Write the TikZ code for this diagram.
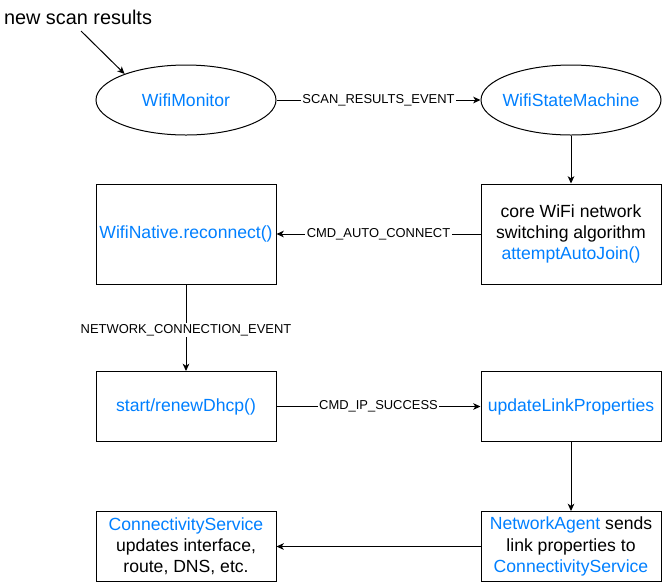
\documentclass[tikz,border=0pt]{standalone}
\usepackage{fontspec}
\setmainfont{Liberation Sans}
\usetikzlibrary{shapes.geometric,arrows.meta}
\definecolor{blu}{HTML}{007FFF}
\tikzset{
  base/.style={draw=black, line width=0.75pt, inner sep=1pt, align=center,
    font=\fontsize{13.2}{15.8}\selectfont, text=black},
  ell/.style={base, ellipse, inner sep=0pt, minimum width=135pt, minimum height=52.5pt},
  box/.style={base, rectangle, minimum width=135pt, minimum height=52.5pt},
  tallbox/.style={box, minimum height=75pt},
  lbl/.style={fill=white, inner sep=1pt, font=\fontsize{9.7}{11}\selectfont, text=black},
  arr/.style={line width=0.75pt, -{Stealth[length=5.5pt,width=5pt,inset=1.6pt]}},
}
\begin{document}
\begin{tikzpicture}[x=0.75pt,y=-0.75pt]
\useasboundingbox (0,0) rectangle (663,583);
\node[font=\fontsize{14.9}{17}\selectfont, inner sep=0pt] (nsr) at (78,17) {new scan results};
\coordinate (nsrend) at (81,31);
\node[ell] (mon) at (186,100) {\makebox[0pt]{\textcolor{blu}{WifiMonitor}}};
\node[ell] (wsm) at (571,100) {\makebox[0pt]{\textcolor{blu}{WifiStateMachine}}};
\node[tallbox] (core) at (571,234) {core WiFi network\\switching algorithm\\\textcolor{blu}{attemptAutoJoin()}};
\node[tallbox] (nat) at (186,234) {\textcolor{blu}{WifiNative.reconnect()}};
\node[box] (dhcp) at (186,406.5) {\textcolor{blu}{start/renewDhcp()}};
\node[box] (ulp) at (571,406.5) {\textcolor{blu}{updateLinkProperties}};
\node[box] (na) at (571,546.5) {\textcolor{blu}{NetworkAgent} sends\\link properties to\\\textcolor{blu}{ConnectivityService}};
\node[box] (cs) at (186,546.5) {\textcolor{blu}{ConnectivityService}\\updates interface,\\route, DNS, etc.};
\draw[arr] (nsrend) -- (mon.157);
\draw[arr] (mon) -- node[lbl]{SCAN\_RESULTS\_EVENT} (wsm);
\draw[arr] (wsm) -- (core);
\draw[arr] (core) -- node[lbl]{CMD\_AUTO\_CONNECT} (nat);
\draw[arr] (nat) -- node[lbl, pos=0.53]{NETWORK\_CONNECTION\_EVENT} (dhcp);
\draw[arr] (dhcp) -- node[lbl]{CMD\_IP\_SUCCESS} (ulp);
\draw[arr] (ulp) -- (na);
\draw[arr] (na) -- (cs);
\end{tikzpicture}
\end{document}
